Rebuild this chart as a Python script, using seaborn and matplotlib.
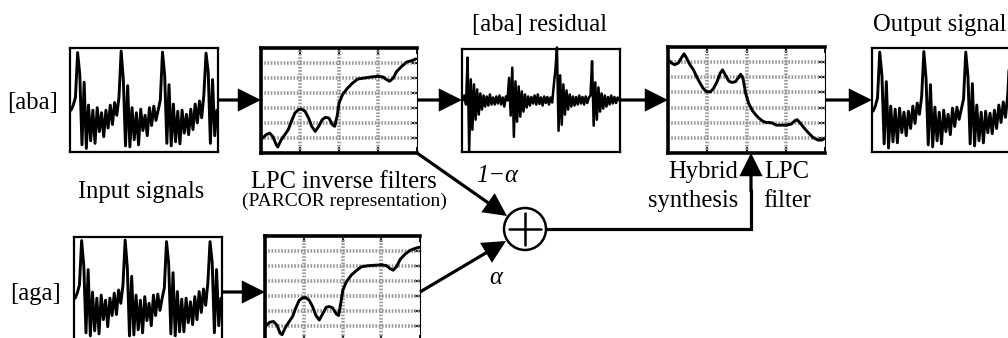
import numpy as np
import pandas as pd
import matplotlib
matplotlib.use("Agg")
import matplotlib.pyplot as plt
from matplotlib.patches import FancyArrowPatch, Circle
import seaborn as sns

# ---------------------------------------------------------------- data
# speech waveforms (normalised amplitude, one value per sample)
wave_aba = [
    -0.20, -0.10, 0.05,
    0.93, 0.50, -0.88, 0.35, -0.95, -0.10, -0.80, -0.20, -0.85, -0.15,
    -0.62, -0.25, -0.72, -0.20, -0.55, -0.10, -0.48, -0.05, -0.30, 0.05,
    0.96, 0.40, -0.90, 0.28, -0.92, -0.15, -0.78, -0.25, -0.88, -0.18,
    -0.60, -0.30, -0.70, -0.15, -0.50, -0.12, -0.40, -0.20, 0.00,
    0.94, 0.48, -0.85, 0.30, -0.90, -0.08, -0.82, -0.22, -0.86, -0.20,
    -0.65, -0.28, -0.68, -0.18, -0.58, -0.08, -0.45, -0.02, -0.35, 0.10,
    0.92, 0.55, -0.85, 0.40, -0.70, -0.20,
]
wave_aga = [
    -0.18, -0.08, 0.08,
    0.95, 0.46, -0.86, 0.38, -0.92, -0.06, -0.82, -0.18, -0.88, -0.12,
    -0.60, -0.22, -0.74, -0.18, -0.52, -0.08, -0.50, -0.02, -0.28, 0.08,
    0.96, 0.42, -0.92, 0.25, -0.90, -0.12, -0.80, -0.22, -0.86, -0.15,
    -0.62, -0.28, -0.72, -0.12, -0.52, -0.10, -0.42, -0.18, 0.02,
    0.93, 0.50, -0.88, 0.32, -0.92, -0.05, -0.84, -0.20, -0.84, -0.18,
    -0.66, -0.25, -0.70, -0.15, -0.60, -0.05, -0.46, 0.00, -0.32, 0.12,
    0.93, 0.52, -0.86, 0.38, -0.72, -0.18,
]
wave_out = [
    -0.22, -0.12, 0.04,
    0.94, 0.48, -0.86, 0.36, -0.94, -0.12, -0.82, -0.18, -0.84, -0.16,
    -0.64, -0.24, -0.70, -0.22, -0.56, -0.12, -0.46, -0.06, -0.28, 0.06,
    0.95, 0.42, -0.88, 0.30, -0.92, -0.14, -0.80, -0.24, -0.86, -0.20,
    -0.62, -0.28, -0.68, -0.16, -0.52, -0.14, -0.38, -0.18, 0.02,
    0.94, 0.46, -0.86, 0.32, -0.90, -0.10, -0.80, -0.24, -0.84, -0.22,
    -0.64, -0.26, -0.66, -0.20, -0.56, -0.10, -0.44, -0.04, -0.34, 0.08,
    0.92, 0.55, -0.85, 0.40, -0.70, -0.20,
]
# prediction residual of [aba]
residual_aba = [
    0.00, 0.10, -0.08, 0.85, -1.00, 0.42, -0.58, 0.32, -0.38, 0.22,
    -0.28, 0.14, -0.18, 0.10, -0.12, 0.08, -0.10, 0.12, -0.08, 0.06,
    -0.08, 0.08, -0.06, 0.10, -0.08, 0.06, -0.12, 0.08, 0.00, 0.45,
    -0.30, 0.65, -0.72, 0.38, -0.42, 0.28, -0.32, 0.18, -0.22, 0.12,
    -0.14, 0.08, -0.10, 0.07, -0.06, 0.10, -0.08, 0.12, -0.07, 0.06,
    -0.10, 0.08, -0.05, 0.07, -0.08, 0.06, -0.04, 0.30, 0.60, 1.05,
    -0.60, 0.50, -0.48, 0.32, -0.28, 0.20, -0.18, 0.12, -0.12, 0.08,
    -0.10, 0.07, -0.08, 0.10, -0.06, 0.07, -0.08, 0.08, -0.05, 0.06,
    0.10, 0.78, -0.50, 0.36, -0.38, 0.26, -0.22, 0.14, -0.16, 0.10,
    -0.12, 0.07, -0.08, 0.10, -0.06, 0.07, -0.05, 0.06, 0.00,
]

# PARCOR representation of the inverse filters
parcor_x_aba = [0.00, 0.13, 0.22, 0.30, 0.39, 0.43, 0.52, 0.61, 0.70, 0.78,
                0.87, 0.96, 1.04, 1.13, 1.22, 1.30, 1.39, 1.48, 1.57, 1.65,
                1.74, 1.83, 1.89, 1.96, 2.00, 2.09, 2.22, 2.35, 2.48, 2.65,
                2.83, 3.00, 3.13, 3.22, 3.30, 3.39, 3.48, 3.61, 3.74, 3.87, 3.97]
parcor_y_aba = [0.89, 1.22, 1.33, 1.11, 0.56, 0.40, 0.89, 1.22, 1.56, 2.11,
                2.67, 2.89, 2.93, 2.78, 2.33, 1.78, 1.44, 1.78, 2.22, 2.38,
                2.33, 1.89, 1.78, 2.56, 3.33, 3.89, 4.33, 4.67, 4.93, 5.00,
                5.07, 5.11, 5.07, 4.89, 4.78, 5.00, 5.44, 5.78, 6.07, 6.16, 6.27]
parcor_x_aga = [0.00, 0.12, 0.22, 0.31, 0.39, 0.44, 0.53, 0.62, 0.71, 0.79,
                0.88, 0.97, 1.05, 1.14, 1.23, 1.31, 1.40, 1.49, 1.58, 1.66,
                1.75, 1.84, 1.90, 1.96, 2.01, 2.10, 2.23, 2.36, 2.49, 2.66,
                2.84, 3.01, 3.14, 3.23, 3.31, 3.40, 3.49, 3.62, 3.75, 3.88, 3.98]
parcor_y_aga = [0.95, 1.25, 1.30, 1.05, 0.52, 0.42, 0.92, 1.28, 1.62, 2.18,
                2.70, 2.88, 2.90, 2.72, 2.28, 1.72, 1.40, 1.82, 2.25, 2.30,
                2.20, 1.80, 1.70, 2.60, 3.40, 3.95, 4.40, 4.70, 4.95, 5.02,
                5.05, 5.08, 5.02, 4.82, 4.72, 4.98, 5.45, 5.80, 6.05, 6.18, 6.25]

# spectral envelope of the hybrid synthesis filter
spec_x = [0.00, 0.09, 0.17, 0.26, 0.34, 0.41, 0.47, 0.56, 0.65, 0.73,
          0.82, 0.90, 0.99, 1.08, 1.16, 1.25, 1.33, 1.39, 1.46, 1.55,
          1.63, 1.72, 1.81, 1.85, 1.91, 1.98, 2.06, 2.15, 2.24, 2.32,
          2.41, 2.49, 2.58, 2.67, 2.75, 2.88, 3.01, 3.14, 3.23, 3.29,
          3.37, 3.46, 3.57, 3.70, 3.83, 3.91, 3.97]
spec_y = [6.17, 5.94, 5.83, 5.94, 6.28, 6.55, 6.28, 5.83, 5.49, 5.04,
          4.60, 4.26, 4.04, 4.04, 4.26, 4.71, 5.27, 5.49, 5.16, 4.75,
          4.66, 4.71, 5.04, 5.20, 4.93, 3.92, 3.25, 2.80, 2.51, 2.29,
          2.11, 2.02, 2.02, 1.97, 1.84, 1.84, 1.84, 1.91, 2.13, 2.20,
          1.97, 1.68, 1.35, 1.01, 0.85, 0.85, 0.94]

# ---------------------------------------------------------------- style
sns.set_theme(style="white")
plt.rcParams["font.family"] = ["Liberation Serif", "DejaVu Serif"]
FS = 17.7

W, H = 1008, 338
fig = plt.figure(figsize=(W / 100, H / 100), dpi=100)
fig.patch.set_facecolor("white")


def panel(x, y, w, h):
    """Axes placed by pixel box (x, y = top-left corner)."""
    ax = fig.add_axes([x / W, 1 - (y + h) / H, w / W, h / H])
    ax.set_zorder(2)
    ax.set_facecolor("white")
    return ax


def signal_panel(x, y, w, h, values, lw=2.1):
    ax = panel(x, y, w, h)
    df = pd.DataFrame({"t": np.arange(len(values)), "v": values})
    sns.lineplot(data=df, x="t", y="v", ax=ax, color="black", lw=lw,
                 estimator=None, sort=False, clip_on=False)
    ax.set_xlim(-0.5, len(values) - 0.5)
    ax.set_ylim(-1.02, 1.02)
    ax.set_xticks([]); ax.set_yticks([])
    ax.set_xlabel(""); ax.set_ylabel("")
    for s in ax.spines.values():
        s.set_color("black"); s.set_linewidth(1.6); s.set_visible(True)
    return ax


def grid_panel(x, y, w, h, xs, ys):
    ax = panel(x, y, w, h)
    for gx in range(1, 4):
        ax.axvline(gx, color="#999999", lw=2.6, ls=(0, (0.45, 0.45)), zorder=1)
    for gy in range(1, 7):
        ax.axhline(gy, color="#999999", lw=2.6, ls=(0, (0.45, 0.45)), zorder=1)
    df = pd.DataFrame({"f": xs, "g": ys})
    sns.lineplot(data=df, x="f", y="g", ax=ax, color="black", lw=2.1,
                 estimator=None, sort=False, zorder=3)
    ax.set_xlim(0, 4); ax.set_ylim(0, 7)
    ax.set_xticks(range(5)); ax.set_yticks(range(8))
    ax.tick_params(which="both", direction="in", length=4, width=1.3,
                   colors="black", top=True, bottom=True, right=True,
                   left=False, labelbottom=False, labelleft=False)
    ax.set_xlabel(""); ax.set_ylabel("")
    for name, s in ax.spines.items():
        s.set_visible(True); s.set_color("black")
        s.set_linewidth(0.8 if name == "right" else 2.6)
    return ax


# ---------------------------------------------------------------- panels
signal_panel(70, 48, 148, 104, wave_aba)
grid_panel(261, 48, 156, 105, parcor_x_aba, parcor_y_aba)
signal_panel(462, 49, 158, 103, residual_aba, lw=1.8)
grid_panel(668, 47, 157, 106, spec_x, spec_y)
signal_panel(872, 48, 150, 104, wave_out)
signal_panel(74, 237, 148, 104, wave_aga)
grid_panel(265, 236, 155, 105, parcor_x_aga, parcor_y_aga)

# ---------------------------------------------------------------- connections
canvas = fig.add_axes([0, 0, 1, 1], zorder=5)
canvas.set_xlim(0, W); canvas.set_ylim(H, 0)
canvas.axis("off")

LW = 2.3


def arrow(p0, p1):
    canvas.add_patch(FancyArrowPatch(
        p0, p1, arrowstyle="-|>,head_length=13,head_width=6.5",
        mutation_scale=1, lw=LW, color="black", shrinkA=0, shrinkB=0,
        joinstyle="miter", capstyle="butt"))


arrow((219, 100), (261, 100))
arrow((417, 100), (462, 100))
arrow((620, 100), (668, 100))
arrow((825, 100), (872, 100))
arrow((222, 292), (265, 292))

# summing node
cx, cy, r = 525, 229, 21
canvas.add_patch(Circle((cx, cy), r, facecolor="white", edgecolor="black", lw=1.8, zorder=4))
canvas.plot([cx - 0.78 * r, cx + 0.78 * r], [cy, cy], color="black", lw=1.8, zorder=5)
canvas.plot([cx, cx], [cy - 0.78 * r, cy + 0.78 * r], color="black", lw=1.8, zorder=5)

arrow((417, 153), (507, 216))
arrow((420, 292), (506, 241))

canvas.plot([cx + r, 751, 751], [cy, cy, 190], color="black", lw=LW,
            solid_joinstyle="miter")
arrow((751, 192), (751, 153))

# ---------------------------------------------------------------- labels
txt = dict(color="black", fontsize=FS)
canvas.text(33, 109, "[aba]", ha="center", va="baseline", **txt)
canvas.text(35, 300, "[aga]", ha="center", va="baseline", **txt)
canvas.text(540, 31, "[aba] residual", ha="center", va="baseline", **txt)
canvas.text(940, 31, "Output signal", ha="center", va="baseline", **txt)
canvas.text(141, 198, "Input signals", ha="center", va="baseline", **txt)
canvas.text(344, 188, "LPC inverse filters", ha="center", va="baseline", **txt)
canvas.text(344, 206, "(PARCOR representation)", ha="center", va="baseline",
            color="black", fontsize=14)
canvas.text(738, 178, "Hybrid", ha="right", va="baseline", **txt)
canvas.text(738, 207, "synthesis", ha="right", va="baseline", **txt)
canvas.text(787, 178, "LPC", ha="center", va="baseline", **txt)
canvas.text(787, 207, "filter", ha="center", va="baseline", **txt)
canvas.text(497, 182, "1\u2212\u03b1", ha="center", va="baseline",
            style="italic", **txt)
canvas.text(496, 284, "\u03b1", ha="center", va="baseline",
            style="italic", **txt)

fig.savefig("out.png", dpi=100, facecolor="white")
